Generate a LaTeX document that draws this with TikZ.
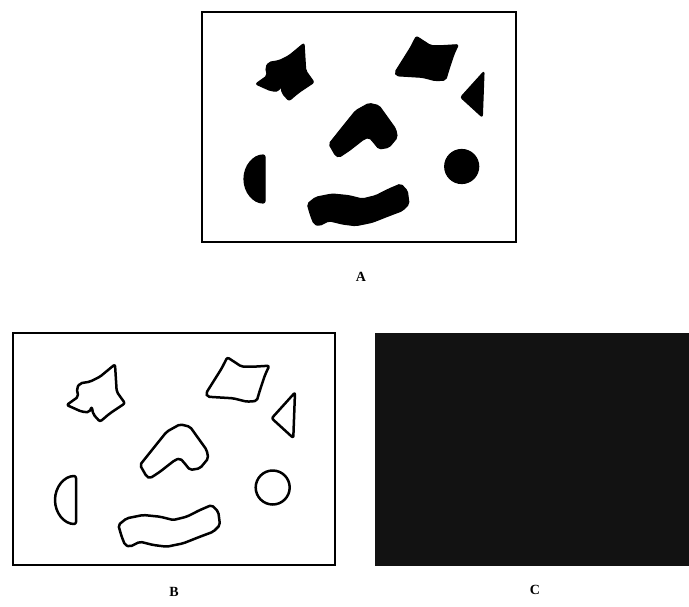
\documentclass[tikz,border=0pt]{standalone}
\usepackage{fontspec}
\setmainfont{Liberation Serif}
\tikzset{
  frame/.style={draw=black, line width=2.8pt},
  darkpanel/.style={fill=black!93, draw=none},
  filledblob/.style={fill=black, draw=black, line width=1.2pt, rounded corners=2pt, line join=round},
  outlineblob/.style={draw=black, line width=2.5pt, rounded corners=2pt, line join=round},
  lbl/.style={font=\fontsize{14}{14}\selectfont\bfseries, inner sep=0pt}
}
\newcommand\blobset[1]{%
  % star-like shape
  \draw[#1] (102,31.3) -- (103.7,58.7) -- (112,70.3) -- (97,80.3) -- (87,88.7) -- (80.3,81.3)
    -- (78.7,73.7) -- (76.3,79.3) -- (68.7,78.7) -- (53.7,72) -- (65.3,63.7) -- (63.7,55.3)
    -- (67,50.3) -- (77,48.7) -- (87,43.7) -- cycle;
  % quadrilateral
  \draw[#1] (214.3,24.3) -- (208.7,35.3) -- (200.3,48.7) -- (193,60.3) -- (194.3,63.7)
    -- (220.3,65.3) -- (233.7,68.7) -- (243.7,68) -- (247,57) -- (252,42) -- (256.3,32.7)
    -- (240.3,33.7) -- (228.7,33.7) -- (222,29.3) -- cycle;
  % triangle
  \draw[#1] (282,59.5) -- (280.3,105) -- (258.7,85.3) -- cycle;
  % boomerang
  \draw[#1] (133.7,143.7) -- (127,132) -- (140.3,115.3) -- (153.7,98.7) -- (167,91.3)
    -- (177,93.7) -- (193.7,117) -- (195.3,125.3) -- (187,135.3) -- (177,137)
    -- (170.3,128.7) -- (167,125.3) -- (162,127) -- (147,138.7) -- (137,145.3) -- cycle;
  % half disk
  \draw[#1] (63,191) arc[start angle=90, end angle=270, x radius=21, y radius=24] -- cycle;
  % disk
  \draw[#1] (259.7,154.5) circle[radius=17];
  % worm
  \draw[#1] (105.3,192) -- (113.7,185.3) -- (130.3,182) -- (147,183.7) -- (160.3,187)
    -- (173.7,183.7) -- (187,177) -- (198.7,172) -- (205.3,178.7) -- (207,192)
    -- (200.3,198.7) -- (187,203.7) -- (170.3,210.3) -- (153.7,213.7) -- (140.3,212)
    -- (127,208.7) -- (117,213.7) -- (112,212) -- (108.7,203.7) -- cycle;
}
\begin{document}
\begin{tikzpicture}[x=1pt, y=-1pt]
  \useasboundingbox (0,0) rectangle (689,606);
  % panel A
  \draw[frame] (202,12) rectangle (516,242);
  \begin{scope}[shift={(202,12)}]
    \blobset{filledblob}
  \end{scope}
  \node[lbl] (labA) at (361,277) {A};
  % panel B
  \draw[frame] (13,333) rectangle (335,565);
  \begin{scope}[shift={(13,333)}]
    \blobset{outlineblob}
  \end{scope}
  \node[lbl] (labB) at (174,592) {B};
  % panel C
  \fill[darkpanel] (375,333) rectangle (689,566);
  \node[lbl] (labC) at (535,590) {C};
\end{tikzpicture}
\end{document}
